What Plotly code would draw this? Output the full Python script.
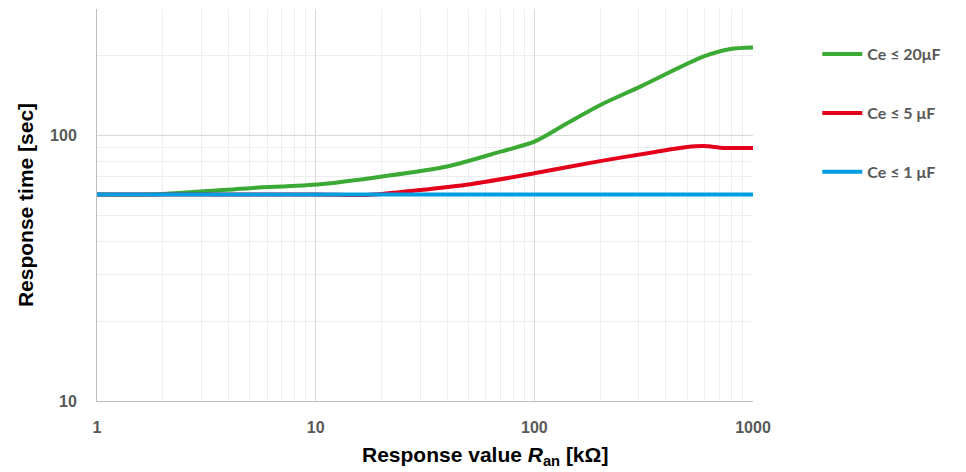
import plotly.graph_objects as go

# Response value R_an [kOhm]
r_green = [1, 1.75, 5, 10.5, 19.8, 39.9, 70, 100, 141.3, 200.6, 305.5, 595.6, 789, 1000]
t_green = [60, 60, 63.4, 65.6, 70.0, 76.5, 87.0, 94.9, 111.4, 130.5, 153.0, 198.7, 211.9, 214.8]

r_red = [1, 10, 17, 30.1, 51, 100, 193.8, 351.7, 500, 595.6, 735, 1000]
t_red = [60, 60, 59.8, 62.4, 65.6, 72.1, 79.8, 86.6, 90.6, 91.4, 89.9, 89.9]

r_blue = [1, 10, 100, 1000]
t_blue = [60, 60, 60, 60]

series = [
    ("Ce ≤ 20μF", r_green, t_green, "#3aaa35"),
    ("Ce ≤ 5 μF", r_red, t_red, "#e3001b"),
    ("Ce ≤ 1 μF", r_blue, t_blue, "#009fe3"),
]

fig = go.Figure()
for name, x, y, color in series:
    fig.add_trace(go.Scatter(
        x=x, y=y, name=name, mode="lines",
        line=dict(color=color, width=4, shape="spline", smoothing=0.8),
        legendgroup=name,
    ))

minor_x = [m * 10 ** k for k in range(3) for m in range(2, 10)]
minor_y = [m * 10 for m in range(2, 10)] + [200, 300]

tickfont = dict(family="Liberation Sans", size=16, color="#595959", weight="bold")
titlefont = dict(family="Liberation Sans", size=21, color="black", weight="bold")

# the page body adds an 8px offset, margins compensate for it
fig.update_layout(
    width=966, height=472,
    margin=dict(l=89, r=221, t=1, b=79, autoexpand=False),
    plot_bgcolor="white", paper_bgcolor="white",
    showlegend=True,
    legend=dict(
        x=1.098, y=0.928, xanchor="left", yanchor="top",
        font=dict(family="Lato", size=16, color="#595959", weight="bold"),
        tracegroupgap=35, itemwidth=40,
    ),
)

# x axis title sits right of the plot centre, like in the original
fig.add_annotation(
    text="Response value <i>R</i><sub>an</sub> [kΩ]",
    xref="paper", yref="paper", x=0.592, y=-0.102,
    xanchor="center", yanchor="top", showarrow=False, font=titlefont,
)

fig.update_xaxes(
    type="log", range=[0, 3], automargin=False,
    tickvals=[1, 10, 100, 1000], ticktext=["1", "10", "100", "1000"],
    tickfont=tickfont, ticks="", ticklabelstandoff=12,
    showgrid=True, gridcolor="#d9d9d9", gridwidth=1,
    minor=dict(tickvals=minor_x, showgrid=True, gridcolor="#eeeeee", gridwidth=1),
    showline=True, linecolor="#bfbfbf", linewidth=1, zeroline=False,
)
fig.update_yaxes(
    type="log", range=[1, 2.4771], automargin=False,
    tickvals=[10, 100], ticktext=["10", "100"],
    tickfont=tickfont, ticks="", ticklabelstandoff=16,
    showgrid=True, gridcolor="#d9d9d9", gridwidth=1,
    minor=dict(tickvals=minor_y, showgrid=True, gridcolor="#eeeeee", gridwidth=1),
    showline=True, linecolor="#bfbfbf", linewidth=1, zeroline=False,
    title=dict(text="Response time [sec]", font=titlefont, standoff=10),
)

fig.write_html("out.html")
